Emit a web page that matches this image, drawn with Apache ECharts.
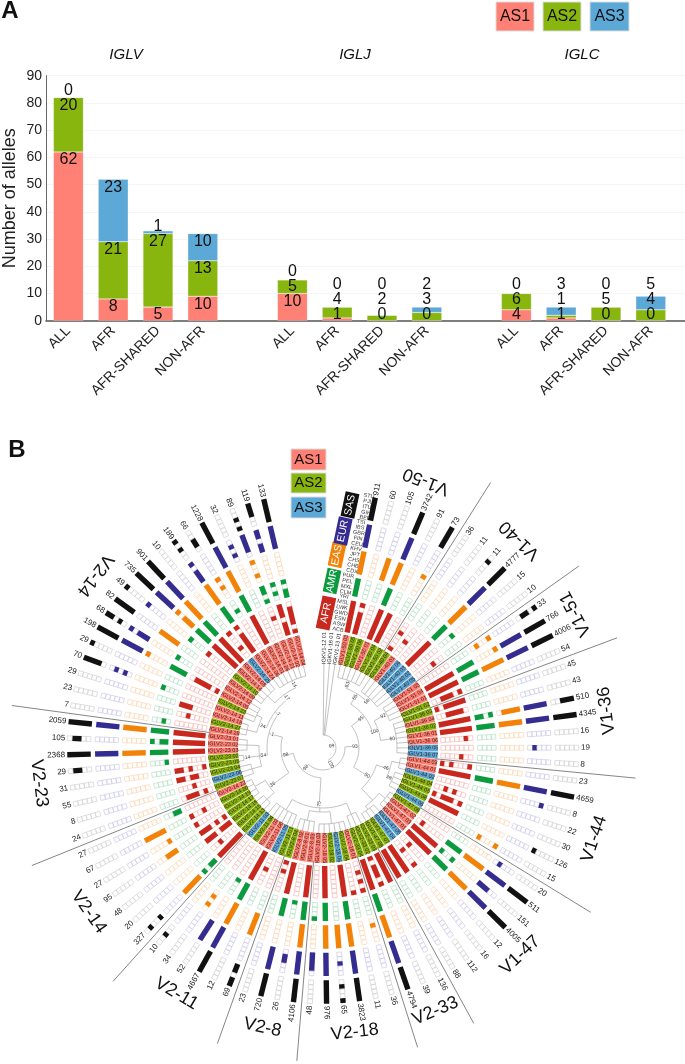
<!DOCTYPE html>
<html lang="en">

<head>
    <meta charset="UTF-8">
    <title>IGL allele sets</title>
    <script src="https://cdn.jsdelivr.net/npm/echarts@6/dist/echarts.min.js"></script>
    <style>
        html, body { margin: 0; padding: 0; background: #fff; }
        #main { width: 685px; height: 1064px; }
    </style>
</head>

<body>
    <div id="main"></div>
    <script>
        // panel A
        var barCategories = ['ALL', 'AFR', 'AFR-SHARED', 'NON-AFR', '', 'ALL', 'AFR', 'AFR-SHARED', 'NON-AFR', '', 'ALL', 'AFR', 'AFR-SHARED', 'NON-AFR', '']
        var as1Values = [62, 8, 5, 9, null, 10, 1, 0, 0, null, 4, 1, 0, 0, null]
        var as2Values = [20, 21, 27, 13, null, 5, 4, 2, 3, null, 6, 1, 5, 4, null]
        var as3Values = [0, 23, 1, 10, null, 0, 0, 0, 2, null, 0, 3, 0, 5, null]
        var as1Printed = [62, 8, 5, 10, null, 10, 1, 0, 0, null, 4, 1, 0, 0, null] // bar is drawn a bit lower than its number

        // panel B, one entry per allele going clockwise from IGLV1-50
        var sectionNames = ['V1-50', 'V1-40', 'V1-51', 'V1-36', 'V1-44', 'V1-47', 'V2-33', 'V2-18', 'V2-8', 'V2-11', 'V2-14', 'V2-23', 'V2-14']
        var sectionSizes = [6, 6, 4, 7, 7, 8, 3, 6, 4, 6, 7, 8, 19]
        var outgroupNames = ['IGKV1-12 01', 'IGKV1-16 01', 'IGKV1-13 01']
        var alleleGenes = ['1-50', '1-40', '1-51', '1-36', '1-44', '1-47', '2-33', '2-18', '2-8', '2-11', '2-14', '2-23', '2-14']
        var alleleIds = ['03', '05', '06', '01', '04', '02',
            '04', '01', '06', '03', '02', '05',
            '03', '04', '01', '02',
            '03', '04', '02', '01', '06', '05', '07',
            '03', '01', '02', '04', '05', '08', '06',
            '06', '02', '03', '01', '05', '04', '07', '08',
            '03', '02', '04',
            '01', '04', '06', '02', '05', '03',
            '03', '01', '02', '04',
            '01', '05', '06', '02', '04', '03',
            '13', '15', '16', '17', '19', '20', '22',
            '07', '06', '04', '05', '02', '03', '02', '01',
            '28', '27', '18', '11', '23', '05', '12', '09', '10', '14', '08', '25', '24', '06', '01', '26', '21', '02', '04']
        var alleleSets = [1, 2, 2, 1, 2, 2, 2, 1, 3, 3, 3, 3, 1, 1, 1, 2, 2, 1, 2, 1, 1, 3, 3, 1, 1, 3, 2, 2, 2, 3,
            2, 1, 1, 1, 3, 3, 2, 2, 2, 2, 2, 1, 2, 3, 2, 1, 1, 1, 1, 1, 2, 2, 3, 1, 1, 2, 3, 2, 2, 2,
            2, 2, 2, 1, 2, 3, 2, 2, 2, 1, 1, 1, 1, 2, 1, 1, 2, 1, 1, 1, 2, 1, 1, 3, 1, 1, 1, 1, 1, 1, 1]
        var alleleCounts = [911, 60, 105, 3742, 91, 73,
            36, 11, 11, 4777, 15, 10,
            33, 766, 4006, 54,
            45, 43, 510, 4345, 16, 19, 8,
            23, 4659, 8, 22, 30, 126, 15,
            20, 511, 151, 4005, 12, 16, 112, 88,
            136, 39, 4794,
            36, 11, 3823, 65, 976, 48,
            4106, 26, 720, 23,
            69, 12, 4667, 52, 34, 10,
            327, 20, 48, 95, 27, 67, 27,
            24, 8, 55, 31, 29, 2368, 105, 2059,
            7, 23, 29, 70, 29, 198, 68, 82, 49, 735, 901, 10, 189, 66, 1228, 32, 89, 119, 133]

        // presence per population, F = all cells, - = none
        var afrCells = ['F', '1111101', '-', 'F', 'F', '-', '1000100', '0001000', '-', 'F',
            '-', '0000100', '-', 'F', 'F', '0011101', '1011111', '0011110', 'F', 'F',
            '0000010', '-', '0000100', '1010001', 'F', '-', '0010100', '1011101', 'F', '-',
            '-', '0100000', 'F', 'F', '0010000', '0010001', 'F', 'F', 'F', '1011101',
            'F', '0010101', '0000001', 'F', '-', 'F', '-', 'F', '-', 'F',
            '1010000', '-', '0001000', 'F', '-', '-', '-', 'F', '0000100', '1110111',
            '1010111', '0000001', '0001001', '-', '0101110', '0001000', '0011011', '1001011', '-', 'F',
            'F', 'F', '-', '0000100', '0000111', '-', '-', '1011110', '-', '-',
            '0000001', 'F', 'F', '0010001', '1111101', '-', 'F', '-', '0000100', '1110111', '1011110']
        var amrCells = ['F', '-', '-', 'F', '-', '-', '-', '-', '-', 'F',
            '0001', '-', '-', 'F', 'F', '-', '-', '-', '1101', 'F',
            '-', '-', '-', '-', 'F', '-', '-', '-', '-', '-',
            '-', 'F', '1001', 'F', '-', '-', '-', '-', '-', '-',
            'F', '-', '-', 'F', '-', 'F', '0001', 'F', '1000', 'F',
            '-', '-', '-', 'F', '1000', '-', '-', '1101', '-', '-',
            '-', '-', '-', '1100', '-', '-', '-', '-', '1000', 'F',
            '1101', 'F', '0100', '-', '-', '0001', '-', 'F', '0001', '-',
            '0001', 'F', 'F', '-', 'F', '0100', 'F', '-', '1011', '0101', '1101']
        var easCells = ['F', '-', 'F', 'F', '-', '00001', '-', '-', '-', 'F',
            '-', '-', '01001', '00001', 'F', '-', '-', '-', '01111', 'F',
            '-', '-', '-', '-', 'F', '-', '-', '-', '-', '10001',
            '-', 'F', '-', 'F', '-', '-', '-', '-', '-', '-',
            'F', '01000', '-', 'F', 'F', 'F', '-', 'F', '-', '-',
            '-', 'F', '-', 'F', '-', '01010', '-', 'F', '-', '-',
            '11100', '10000', 'F', '-', '-', '-', '-', '-', '-', 'F',
            '-', 'F', '-', '-', '-', '-', '-', '00001', '-', 'F',
            '-', '11101', 'F', '-', 'F', '00101', 'F', '-', '01001', '-', '-']
        var eurCells = ['F', '-', '-', 'F', '-', '-', '-', '-', '-', 'F',
            '-', '-', '-', 'F', 'F', '-', '-', '-', 'F', 'F',
            '-', '01000', '-', '-', 'F', '00001', '-', '-', '-', '-',
            '01000', 'F', '11100', 'F', '-', '-', '-', '-', '-', '-',
            'F', '-', '-', 'F', '00100', 'F', '11110', 'F', '01100', 'F',
            '-', '-', '-', 'F', 'F', '-', '-', '-', '-', '-',
            '-', '-', '-', '-', '-', '-', '-', '-', '-', 'F',
            '-', 'F', '-', '-', '-', '01010', '-', 'F', '11101', '-',
            '00001', 'F', 'F', '-', '11101', '-', 'F', '01010', '01111', '11011', 'F']
        var sasCells = ['F', '-', '-', 'F', '-', 'F', '-', '-', '00010', 'F',
            '-', '-', '01101', 'F', 'F', '-', '-', '-', '00111', 'F',
            '-', '-', '-', '-', 'F', '-', '-', '-', '10000', '-',
            '-', 'F', '-', 'F', '-', '-', '-', '-', '-', '-',
            'F', '-', '-', 'F', '01001', 'F', '-', 'F', '-', 'F',
            '-', '11011', '-', 'F', '-', '-', '00100', '10010', '-', '-',
            '-', '-', '-', '-', '-', '-', '-', '-', '00110', 'F',
            '00110', 'F', '-', '-', '-', '01111', '00001', 'F', '01011', 'F',
            '00001', 'F', 'F', '-', '00101', '01100', 'F', '-', '10100', '00111', 'F']

        var afrPops = ['YRI', 'MSL', 'LWK', 'GWD', 'ESN', 'ASW', 'ACB']
        var amrPops = ['PUR', 'PEL', 'MXL', 'CLM']
        var easPops = ['KHV', 'JPT', 'CHS', 'CHB', 'CDX']
        var eurPops = ['TSI', 'IBS', 'GBR', 'FIN', 'CEU']
        var sasPops = ['STU', 'PJL', 'ITU', 'GIH', 'BEB']

        // [node radius, bootstrap, children...], a plain number n is n leaves in a row
        var treeShape = [13, '99', 3, [22, '100',
            [36, '93',
                [52, '95', [64, '65', [72, '53', 6], [68, '56', 6]], [58, '100', [72, '92', 4], [74, '60', 7]]],
                [56, '50', [70, '46', [78, '', 3], [76, '38', 4]], [72, '', [80, '', 4], [76, '', 4]]]],
            [30, '98',
                [60, '75', [72, '', 3], [64, '', [76, '', 6], [74, '', 4]], [72, '', 6]],
                [42, '98',
                    [66, '36', [76, '', 3], [78, '', 4]],
                    [56, '1', [64, '54', [74, '', 3], [80, '14', 2], [76, '', 3]],
                        [60, '7', [68, '24', [78, '', 3], [74, '', 4]], [66, '17', [76, '', 5], [74, '14', 7]]]]]]]]

        var setColors = { 1: '#ff8074', 2: '#88b60f', 3: '#5ca9d8' }
        var textFont = '"Liberation Sans", Arial, sans-serif'

        // --- radial layout, rows are the angle axis and radius axis is in pixels
        var rowStep = 3.72
        var firstRow = -3
        var centerPos = [323, 748]
        var outerEdge = 340
        var rings = [
            { name: 'AFR', cells: afrCells, size: 7, from: 118, cell: 4.6, fill: '#c8281e', empty: '#f6c2bc' },
            { name: 'AMR', cells: amrCells, size: 4, from: 154.7, cell: 4.6, fill: '#0c9a3e', empty: '#bde3c9' },
            { name: 'EAS', cells: easCells, size: 5, from: 177.3, cell: 4.7, fill: '#f28308', empty: '#fbdabb' },
            { name: 'EUR', cells: eurCells, size: 5, from: 204.7, cell: 4.66, fill: '#352c8f', empty: '#d2cfea' },
            { name: 'SAS', cells: sasCells, size: 5, from: 232.3, cell: 4.7, fill: '#111111', empty: '#d6d6d6' }
        ]

        function rowAngle(api, row) {
            var c = api.coord([0, row])
            var p = api.coord([100, row])
            var deg = Math.atan2(p[0] - c[0], c[1] - p[1]) * 180 / Math.PI
            return deg < 0 ? deg + 360 : deg
        }

        // rotation that keeps text readable, it runs outward on the right and inward on the left
        function radialRotation(deg) {
            var cw = deg < 180 ? deg - 90 : deg - 270
            return -cw * Math.PI / 180
        }

        function rectPoints(api, row, r0, r1, half) {
            var a = api.coord([r0, row])
            var b = api.coord([r1, row])
            var dx = b[0] - a[0]
            var dy = b[1] - a[1]
            var len = Math.sqrt(dx * dx + dy * dy)
            var nx = -dy / len * half
            var ny = dx / len * half
            return [[a[0] + nx, a[1] + ny], [b[0] + nx, b[1] + ny], [b[0] - nx, b[1] - ny], [a[0] - nx, a[1] - ny]]
        }

        function ringRuns(ring) {
            var runs = []
            ring.cells.forEach(function(code, row) {
                var bits = code
                if (code === 'F') bits = new Array(ring.size + 1).join('1')
                if (code === '-') bits = new Array(ring.size + 1).join('0')
                var i = 0
                while (i < ring.size) {
                    if (bits[i] === '1') {
                        var j = i
                        while (j + 1 < ring.size && bits[j + 1] === '1') j++
                        runs.push([row, i, j + 1, 1])
                        i = j + 1
                    } else {
                        runs.push([row, i, i + 1, 0])
                        i++
                    }
                }
            })
            return runs
        }

        function ringSeries(ring) {
            return {
                type: 'custom',
                name: ring.name,
                coordinateSystem: 'polar',
                silent: true,
                animation: false,
                data: ringRuns(ring),
                renderItem: function(params, api) {
                    var row = api.value(0)
                    var filled = api.value(3) === 1
                    var pts = rectPoints(api, row, ring.from + api.value(1) * ring.cell, ring.from + api.value(2) * ring.cell, filled ? 2.7 : 2.4)
                    return {
                        type: 'polygon',
                        shape: { points: pts },
                        style: filled ? { fill: ring.fill } : { fill: 'none', stroke: ring.empty, lineWidth: 0.8 }
                    }
                }
            }
        }

        // tree walk, gives polar segments and bootstrap labels
        var treeSegments = []
        var treeLabels = []
        var nextRow = firstRow

        function walkTree(node) {
            var kids = []
            for (var i = 2; i < node.length; i++) {
                if (typeof node[i] === 'number') {
                    for (var k = 0; k < node[i]; k++) kids.push({ row: nextRow++, r: 85 })
                } else {
                    kids.push(walkTree(node[i]))
                }
            }
            var a = kids[0].row
            var b = kids[kids.length - 1].row
            var arc = []
            for (var s = 0; s <= 12; s++) arc.push([node[0], a + (b - a) * s / 12])
            treeSegments.push(arc)
            kids.forEach(function(kid) {
                treeSegments.push([[node[0], kid.row], [kid.r, kid.row]])
            })
            var mid = (a + b) / 2
            if (node[1]) treeLabels.push([node[0] - 4, mid, node[1]])
            return { row: mid, r: node[0] }
        }
        walkTree(treeShape)

        var alleleNames = []
        var dividerRows = []
        var sectionMids = []
        var rowCursor = 0
        sectionSizes.forEach(function(size, s) {
            for (var i = 0; i < size; i++) {
                alleleNames.push('IGLV' + alleleGenes[s] + ' ' + alleleIds[rowCursor + i])
            }
            sectionMids.push(rowCursor + (size - 1) / 2)
            rowCursor += size
            if (s < sectionSizes.length - 1) dividerRows.push(rowCursor - 0.5)
        })
        sectionMids[sectionMids.length - 1] = 79.4 // label sits off centre on the long V2-14 part

        var polarSeries = [
            {
                type: 'custom',
                name: 'tree',
                coordinateSystem: 'polar',
                silent: true,
                animation: false,
                data: treeSegments.map(function(seg, i) { return [i] }),
                renderItem: function(params, api) {
                    var seg = treeSegments[api.value(0)]
                    return {
                        type: 'polyline',
                        shape: { points: seg.map(function(p) { return api.coord(p) }) },
                        style: { fill: 'none', stroke: '#a8a8a8', lineWidth: 0.7 }
                    }
                }
            },
            {
                type: 'custom',
                name: 'bootstrap',
                coordinateSystem: 'polar',
                silent: true,
                animation: false,
                data: treeLabels.map(function(l, i) { return [i] }),
                renderItem: function(params, api) {
                    var lab = treeLabels[api.value(0)]
                    var p = api.coord([lab[0], lab[1]])
                    return {
                        type: 'text',
                        x: p[0],
                        y: p[1],
                        rotation: radialRotation(rowAngle(api, lab[1])),
                        style: { text: lab[2], fill: '#333', font: '5px ' + textFont, textAlign: 'center', textVerticalAlign: 'middle', backgroundColor: '#fff' }
                    }
                }
            },
            {
                type: 'custom',
                name: 'dividers',
                coordinateSystem: 'polar',
                silent: true,
                animation: false,
                data: dividerRows.map(function(row) { return [row] }),
                renderItem: function(params, api) {
                    var a = api.coord([113, api.value(0)])
                    var b = api.coord([314, api.value(0)])
                    return {
                        type: 'line',
                        shape: { x1: a[0], y1: a[1], x2: b[0], y2: b[1] },
                        style: { stroke: '#777', lineWidth: 0.9 }
                    }
                }
            },
            {
                type: 'custom',
                name: 'alleles',
                coordinateSystem: 'polar',
                silent: true,
                animation: false,
                data: alleleNames.map(function(n, i) { return [i] }),
                renderItem: function(params, api) {
                    var row = api.value(0)
                    var a = api.coord([85, row - 0.46])
                    var b = api.coord([115, row - 0.46])
                    var c = api.coord([115, row + 0.46])
                    var d = api.coord([85, row + 0.46])
                    var m = api.coord([100, row])
                    return {
                        type: 'group',
                        children: [{
                            type: 'polygon',
                            shape: { points: [a, b, c, d] },
                            style: { fill: setColors[alleleSets[row]] }
                        }, {
                            type: 'text',
                            x: m[0],
                            y: m[1],
                            rotation: radialRotation(rowAngle(api, row)),
                            style: { text: alleleNames[row], fill: '#3a1a14', font: '5.5px ' + textFont, textAlign: 'center', textVerticalAlign: 'middle' }
                        }]
                    }
                }
            },
            {
                type: 'custom',
                name: 'outgroup',
                coordinateSystem: 'polar',
                silent: true,
                animation: false,
                data: outgroupNames.map(function(n, i) { return [i] }),
                renderItem: function(params, api) {
                    var row = firstRow + api.value(0)
                    var m = api.coord([100, row])
                    return {
                        type: 'text',
                        x: m[0],
                        y: m[1],
                        rotation: radialRotation(rowAngle(api, row)),
                        style: { text: outgroupNames[api.value(0)], fill: '#222', font: '5.5px ' + textFont, textAlign: 'center', textVerticalAlign: 'middle' }
                    }
                }
            },
            {
                type: 'custom',
                name: 'counts',
                coordinateSystem: 'polar',
                silent: true,
                animation: false,
                data: alleleCounts.map(function(n, i) { return [i] }),
                renderItem: function(params, api) {
                    var row = api.value(0)
                    var p = api.coord([258, row])
                    var deg = rowAngle(api, row)
                    return {
                        type: 'text',
                        x: p[0],
                        y: p[1],
                        rotation: radialRotation(deg),
                        style: { text: String(alleleCounts[row]), fill: '#222', font: '8px ' + textFont, textAlign: deg < 180 ? 'left' : 'right', textVerticalAlign: 'middle' }
                    }
                }
            },
            {
                type: 'custom',
                name: 'sections',
                coordinateSystem: 'polar',
                silent: true,
                animation: false,
                data: sectionNames.map(function(n, i) { return [i] }),
                renderItem: function(params, api) {
                    var row = sectionMids[api.value(0)]
                    var p = api.coord([286, row])
                    var deg = rowAngle(api, row)
                    return {
                        type: 'text',
                        x: p[0],
                        y: p[1],
                        rotation: (180 - deg) * Math.PI / 180,
                        style: { text: sectionNames[api.value(0)], fill: '#111', font: '18px ' + textFont, textAlign: 'center', textVerticalAlign: 'middle' }
                    }
                }
            }
        ].concat(rings.map(ringSeries))

        // --- panel A series
        function barSeries(name, values, color) {
            return {
                type: 'bar',
                name: name,
                stack: 'alleles',
                barWidth: 30,
                silent: true,
                animation: false,
                itemStyle: { color: color, borderColor: 'rgba(255,255,255,0.45)', borderWidth: 0.5 },
                data: values
            }
        }

        // numbers keep at least 15px between them, starting from the bottom of each bar
        var barNumbers = {
            type: 'custom',
            name: 'numbers',
            xAxisIndex: 0,
            yAxisIndex: 0,
            z: 10,
            silent: true,
            animation: false,
            data: barCategories.map(function(c, i) { return c ? [i] : null }).filter(Boolean),
            renderItem: function(params, api) {
                var cat = api.value(0)
                var stacks = [as1Values[cat], as2Values[cat], as3Values[cat]]
                var printed = [as1Printed[cat], as2Values[cat], as3Values[cat]]
                var total = 0
                var lastY = null
                var kids = []
                stacks.forEach(function(v, i) {
                    total += v
                    var p = api.coord([cat, total])
                    var y = Math.min(p[1] + 8, 315)
                    if (lastY !== null) y = Math.min(y, lastY - 15)
                    lastY = y
                    kids.push({
                        type: 'text',
                        x: p[0],
                        y: y,
                        style: { text: String(printed[i]), fill: '#111', font: '16px ' + textFont, textAlign: 'center', textVerticalAlign: 'middle' }
                    })
                })
                return { type: 'group', children: kids }
            }
        }

        // --- plain drawn bits
        function legendBox(x, y, w, h, label, color, size) {
            return [{
                type: 'rect',
                shape: { x: x, y: y, width: w, height: h },
                style: { fill: color, stroke: '#dddddd', lineWidth: 1 },
                silent: true
            }, {
                type: 'text',
                x: x + w / 2,
                y: y + h / 2,
                style: { text: label, fill: '#111', font: size + 'px ' + textFont, textAlign: 'center', textVerticalAlign: 'middle' },
                silent: true
            }]
        }

        function plainText(x, y, text, font, extra) {
            var el = {
                type: 'text',
                x: x,
                y: y,
                silent: true,
                style: { text: text, fill: '#111', font: font, textAlign: 'center', textVerticalAlign: 'middle' }
            }
            if (extra) el.rotation = extra
            return el
        }

        function popBadge(cx, cy, len, label, color) {
            return {
                type: 'group',
                x: cx,
                y: cy,
                rotation: 78 * Math.PI / 180,
                silent: true,
                children: [{
                    type: 'rect',
                    shape: { x: -len / 2, y: -7, width: len, height: 14 },
                    style: { fill: color }
                }, {
                    type: 'text',
                    style: { text: label, fill: '#fff', font: '10.5px ' + textFont, textAlign: 'center', textVerticalAlign: 'middle' }
                }]
            }
        }

        function popList(cx, cy, names) {
            var el = plainText(cx, cy, names.join('\n'), '5.5px ' + textFont, -10 * Math.PI / 180)
            el.style.fill = '#333'
            el.style.lineHeight = 5.6
            return el
        }

        var drawn = [
            plainText(10, 11, 'A', 'bold 24px ' + textFont),
            plainText(17, 450, 'B', 'bold 24px ' + textFont),
            plainText(126, 55, 'IGLV', 'italic 15px ' + textFont),
            plainText(355, 55, 'IGLJ', 'italic 15px ' + textFont),
            plainText(582, 55, 'IGLC', 'italic 15px ' + textFont),
            popBadge(326, 613, 33, 'AFR', rings[0].fill),
            popBadge(332, 581, 24, 'AMR', rings[1].fill),
            popBadge(337, 555, 24, 'EAS', rings[2].fill),
            popBadge(343, 531, 27, 'EUR', rings[3].fill),
            popBadge(350, 505, 25, 'SAS', rings[4].fill),
            popList(341, 613, afrPops),
            popList(347, 584, amrPops),
            popList(354, 560, easPops),
            popList(359, 533, eurPops),
            popList(367, 507, sasPops)
        ].concat(
            legendBox(496, 2, 38, 29, 'AS1', setColors[1], 16),
            legendBox(543, 2, 38, 29, 'AS2', setColors[2], 16),
            legendBox(590, 2, 39, 29, 'AS3', setColors[3], 16),
            legendBox(291, 449, 35, 21, 'AS1', setColors[1], 15),
            legendBox(291, 473, 35, 20, 'AS2', setColors[2], 15),
            legendBox(291, 497, 35, 21, 'AS3', setColors[3], 15)
        )

        var mCharts = echarts.init(document.getElementById('main'), null, { renderer: 'canvas' })
        mCharts.setOption({
            animation: false,
            backgroundColor: '#fff',
            textStyle: { fontFamily: textFont },
            grid: { left: 46, top: 75.7, width: 672, height: 245, outerBoundsMode: 'none', containLabel: false },
            xAxis: {
                type: 'category',
                data: barCategories,
                axisTick: { show: false },
                axisLine: { lineStyle: { color: '#555', width: 1.5 } },
                axisLabel: { interval: 0, rotate: 45, margin: 8, fontSize: 14, color: '#222' }
            },
            yAxis: {
                type: 'value',
                min: 0,
                max: 90,
                interval: 10,
                name: 'Number of alleles',
                nameLocation: 'middle',
                nameRotate: 90,
                nameGap: 27,
                nameMoveOverlap: false,
                nameTextStyle: { fontSize: 18, color: '#222' },
                axisLine: { show: true, lineStyle: { color: '#666', width: 1 } },
                axisTick: { show: false },
                axisLabel: { fontSize: 14, color: '#222', margin: 4 },
                splitLine: { lineStyle: { color: '#f5f5f5', width: 1 } }
            },
            polar: { center: centerPos, radius: [0, outerEdge] },
            radiusAxis: { type: 'value', min: 0, max: outerEdge, show: false },
            angleAxis: {
                type: 'value',
                min: firstRow,
                max: firstRow + 360 / rowStep,
                startAngle: 90 - (11.8 + firstRow * rowStep),
                show: false
            },
            graphic: { elements: drawn },
            series: [
                barSeries('AS1', as1Values, setColors[1]),
                barSeries('AS2', as2Values, setColors[2]),
                barSeries('AS3', as3Values, setColors[3]),
                barNumbers
            ].concat(polarSeries)
        })
    </script>
</body>

</html>
